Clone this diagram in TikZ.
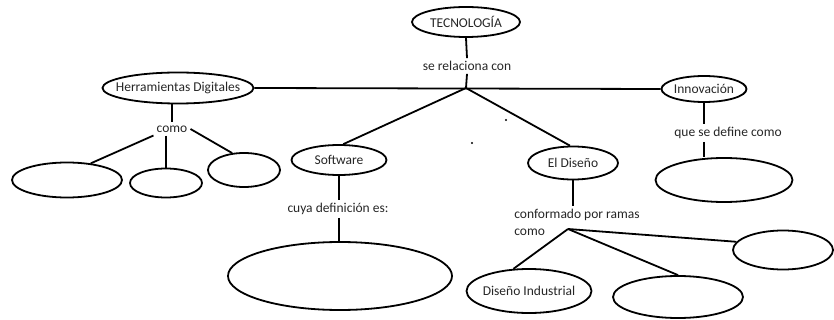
\documentclass[tikz,border=0pt]{standalone}
\usepackage{fontspec}
\setmainfont{Carlito}
\usetikzlibrary{shapes.geometric}
\begin{document}
\begin{tikzpicture}[x=1pt,y=-1pt,
  bubble/.style={ellipse,draw,line width=1.8pt,inner xsep=-12pt,inner ysep=0pt,text=black!85,font=\fontsize{13.5}{15}\selectfont},
  word/.style={inner sep=3pt,text=black!85,font=\fontsize{13.5}{16}\selectfont},
  link/.style={line width=1.8pt}]
\useasboundingbox (0,0) rectangle (834,320);

\node[bubble,minimum width=108pt,minimum height=30pt] (tec) at (466,22) {TECNOLOGÍA};
\node[word] (relaciona) at (467,66) {se relaciona con};
\coordinate (hub) at (466,88);

\node[bubble,minimum width=151pt,minimum height=31pt] (herr) at (178,88) {Herramientas Digitales};
\node[bubble,minimum width=85pt,minimum height=26pt] (innov) at (704,89) {Innovación};
\node[bubble,minimum width=95pt,minimum height=30pt] (soft) at (339,160) {Software};
\node[bubble,minimum width=90pt,minimum height=33pt] (diseno) at (573,163) {El Diseño};

\node[word] (como) at (172,129) {como};
\node[bubble,minimum width=110pt,minimum height=35pt] (herrA) at (67,180) {};
\node[bubble,minimum width=72pt,minimum height=29pt] (herrB) at (166,183) {};
\node[bubble,minimum width=72pt,minimum height=34pt] (herrC) at (244,170) {};

\node[word] (quese) at (728,133) {que se define como};
\node[bubble,minimum width=137pt,minimum height=44pt] (innovdef) at (724,180) {};

\node[word] (cuya) at (338,209) {cuya definición es:};
\node[bubble,minimum width=224pt,minimum height=68pt] (softdef) at (340,276) {};

\node[word,align=left,font=\fontsize{13.5}{17}\selectfont] (ramas) at (577,222) {conformado por ramas\\como};
\coordinate (hubB) at (568,229);
\node[bubble,minimum width=125pt,minimum height=44pt] (industrial) at (529,291) {Diseño Industrial};
\node[bubble,minimum width=130pt,minimum height=42pt] (ramaB) at (678,297) {};
\node[bubble,minimum width=100pt,minimum height=39pt] (ramaC) at (783,250) {};

\draw[link] (tec.south) -- (relaciona.north);
\draw[link] (relaciona.south) -- (hub);
\draw[link] (herr.east) -- (innov.west);
\draw[link] (hub) -- (soft.75);
\draw[link] (hub) -- (diseno.100);

\draw[link] (como |- herr.south) -- (como.north);
\draw[link] (como.south west) -- (herrA.35);
\draw[link] (herrB.north |- como.south) -- (herrB.north);
\draw[link] (como.east) -- (herrC.125);

\draw[link] (innov.south) -- (innov.south |- quese.north);
\draw[link] (innov.south |- quese.south) -- (innov.south |- innovdef.north);

\draw[link] (soft.south) -- (soft.south |- cuya.north);
\draw[link] (soft.south |- cuya.south) -- (soft.south |- softdef.north);

\draw[link] (diseno.south) -- (diseno.south |- ramas.north);
\draw[link] (hubB) -- (industrial.125);
\draw[link] (hubB) -- (ramaB.north);
\draw[link] (hubB) -- (ramaC.170);

\fill (506,120) circle (1.2pt);
\fill (472,143) circle (1.2pt);
\end{tikzpicture}
\end{document}
